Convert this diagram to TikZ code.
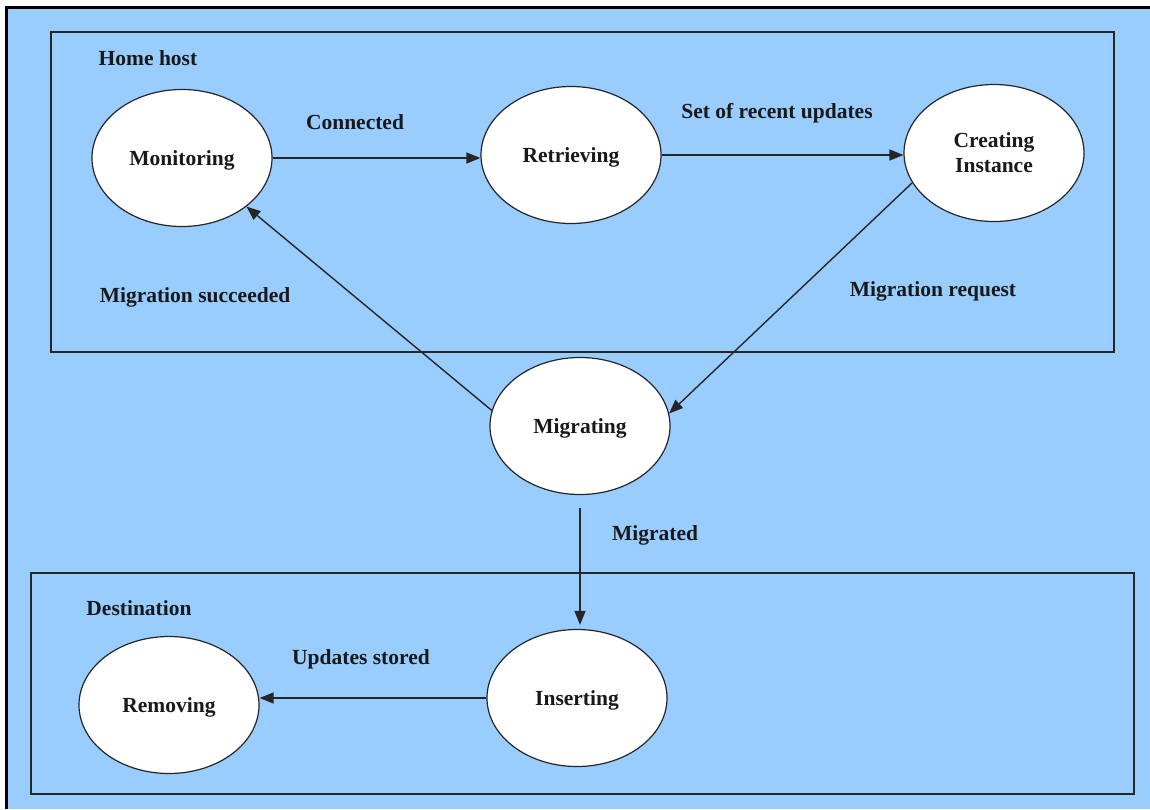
\documentclass[tikz,border=0pt]{standalone}
\usepackage{fontspec}
\setmainfont{Liberation Serif}
\usetikzlibrary{shapes.geometric,arrows.meta}
\definecolor{bgblue}{HTML}{99CCFF}
\begin{document}
\begin{tikzpicture}[x=1pt,y=-1pt,
  state/.style={ellipse,draw=black!85,line width=1.2pt,fill=white,minimum width=180pt,minimum height=137pt,inner sep=0pt,align=center},
  oneline/.style={text height=14pt,text depth=0pt},
  lbl/.style={inner sep=0pt,anchor=center},
  group/.style={draw=black!85,line width=1.5pt},
  arr/.style={draw=black!85,line width=1.4pt,-{Triangle[length=14pt,width=11pt]}},
  every node/.style={font=\fontsize{21.5}{25}\selectfont\bfseries,text=black!90}]
\useasboundingbox (0,0) rectangle (1150,809);
\fill[white] (0,0) rectangle (1150,809);
\fill[bgblue] (6,7) rectangle (1150,809);
\draw[line width=3pt] (6,809) -- (6,7) -- (1150,7);
% group boxes
\draw[group] (51,32) rectangle (1114,352);
\draw[group] (31,573) rectangle (1134,794);
% states
\node[state,oneline] (mon) at (182,158) {Monitoring};
\node[state,oneline] (ret) at (571,155) {Retrieving};
\node[state] (cre) at (994,153) {Creating\\Instance};
\node[state,oneline] (mig) at (580,426) {Migrating};
\node[state,oneline] (ins) at (577,698) {Inserting};
\node[state,oneline] (rem) at (169,705) {Removing};
% labels
\node[lbl] (lhome) at (148,58) {Home host};
\node[lbl] (lcon) at (355,122) {Connected};
\node[lbl] (lset) at (777,113) {Set of recent updates};
\node[lbl] (lsucc) at (195,297) {Migration succeeded};
\node[lbl] (lreq) at (933,291) {Migration request};
\node[lbl] (lmigd) at (655,535) {Migrated};
\node[lbl] (ldest) at (139,608) {Destination};
\node[lbl] (lstore) at (361,659) {Updates stored};
% connectors
\draw[arr] (mon.east) -- (mon.east -| ret.west);
\draw[arr] (ret.east) -- (ret.east -| cre.west);
\draw[arr] (cre.200) -- (mig.8);
\draw[arr] (mig.170) -- (mon.323);
\draw[arr,shorten <=13pt,shorten >=4pt] (mig.south) -- (mig.south |- ins.north);
\draw[arr] (ins.west) -- (ins.west -| rem.east);
\end{tikzpicture}
\end{document}
